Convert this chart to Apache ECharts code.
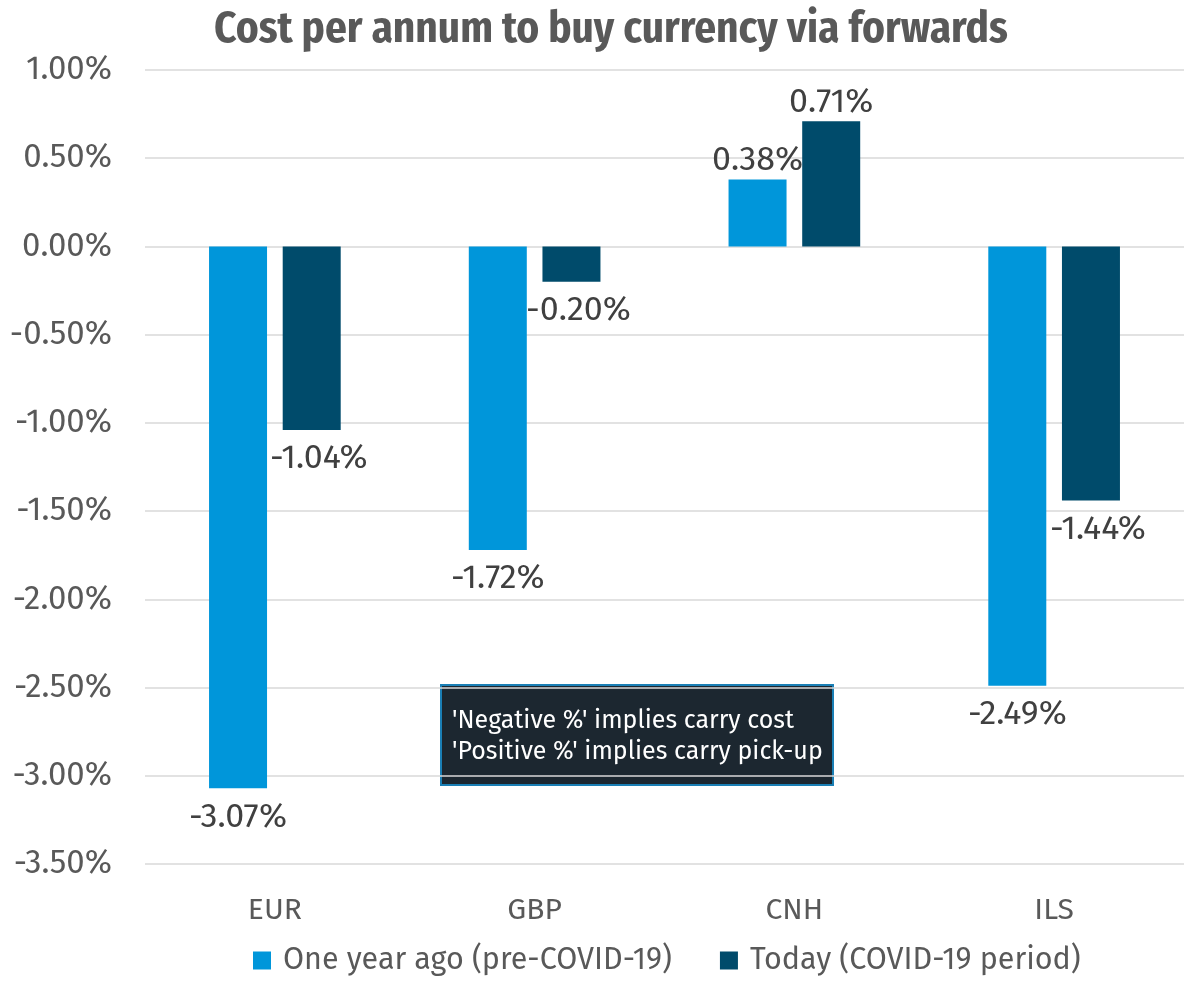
<!DOCTYPE html>
<html>
<head>
<meta charset="utf-8">
<script src="https://cdn.jsdelivr.net/npm/echarts@6/dist/echarts.min.js"></script>
<style>
html,body{margin:0;padding:0;background:#fff;}
#chart{width:1189px;height:1002px;}
</style>
</head>
<body>
<div id="chart"></div>
<script>
const categories = ['EUR', 'GBP', 'CNH', 'ILS'];
const seriesNames = ['One year ago (pre-COVID-19)', 'Today (COVID-19 period)'];
const oneYearAgo = [-3.07, -1.72, 0.38, -2.49];
const today = [-1.04, -0.20, 0.71, -1.44];
const noteLines = ["'Negative %' implies carry cost", "'Positive %' implies carry pick-up"];
const titleText = 'Cost per annum to buy currency via forwards';

const FONT = '"Fira Sans", "Open Sans", sans-serif';
const colors = ['#0096da', '#004b6b'];

function toData(arr, dx) {
  return arr.map(v => ({
    value: v,
    label: v < 0
      ? { position: 'bottom', distance: 12, offset: [dx, 0] }
      : { position: 'top', distance: 2 }
  }));
}

const labelStyle = {
  show: true,
  fontFamily: FONT,
  fontSize: 34,
  color: '#404040',
  formatter: p => p.value.toFixed(2) + '%'
};

const chart = echarts.init(document.getElementById('chart'));
chart.setOption({
  animation: false,
  title: {
    text: titleText,
    left: 209,
    top: 3,
    textStyle: {
      fontFamily: '"Fira Sans Condensed", "Fira Sans Extra Condensed", "Liberation Sans Narrow", "Fira Sans", sans-serif',
      fontWeight: 'bold',
      fontSize: 43,
      color: '#595959'
    }
  },
  legend: {
    top: 940,
    left: 248,
    icon: 'rect',
    itemWidth: 18,
    itemHeight: 18,
    itemGap: 48,
    textStyle: { fontFamily: FONT, fontSize: 30.5, color: '#595959', padding: [0, 0, 0, 7] },
    data: seriesNames
  },
  grid: { left: 145, right: 5, top: 70, bottom: 138 },
  xAxis: {
    type: 'category',
    data: categories,
    axisLine: { show: false },
    axisTick: { show: false },
    axisLabel: { margin: 32, fontFamily: FONT, fontSize: 30, color: '#595959' }
  },
  yAxis: {
    type: 'value',
    min: -3.5,
    max: 1,
    interval: 0.5,
    axisLine: { show: false },
    axisTick: { show: false },
    splitLine: { lineStyle: { color: '#d9d9d9', width: 1.5 } },
    axisLabel: {
      margin: 33,
      fontFamily: FONT,
      fontSize: 33,
      color: '#595959',
      formatter: v => v.toFixed(2) + '%'
    }
  },
  series: [
    {
      name: seriesNames[0],
      type: 'bar',
      data: toData(oneYearAgo, 0),
      barWidth: 58,
      barGap: '27%',
      itemStyle: { color: colors[0] },
      label: labelStyle
    },
    {
      name: seriesNames[1],
      type: 'bar',
      data: toData(today, 7),
      barWidth: 58,
      barGap: '27%',
      itemStyle: { color: colors[1] },
      label: labelStyle
    }
  ],
  graphic: [
    {
      type: 'group',
      left: 440,
      top: 684,
      children: [
        {
          type: 'rect',
          shape: { x: 0, y: 0, width: 392, height: 100 },
          style: { fill: '#1c2730', stroke: '#1a7fb5', lineWidth: 2 }
        },
        {
          type: 'text',
          left: 11,
          top: 21,
          style: {
            text: noteLines.join('\n'),
            fill: '#ffffff',
            font: '25px ' + FONT,
            lineHeight: 31
          }
        }
      ]
    }
  ]
});
</script>
</body>
</html>
